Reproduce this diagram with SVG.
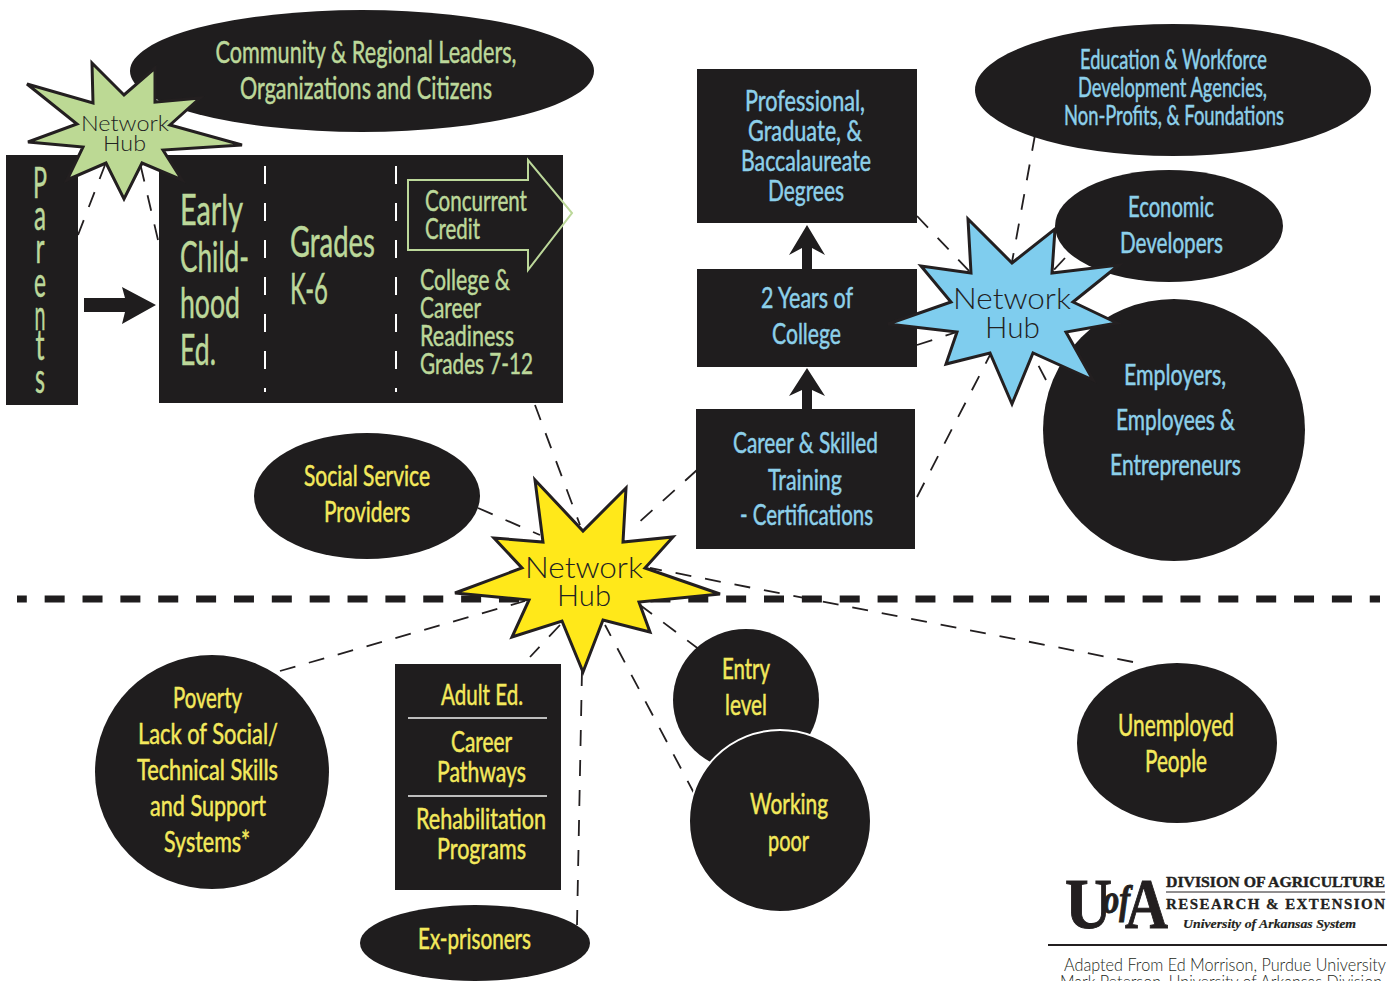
<svg xmlns="http://www.w3.org/2000/svg" width="1393" height="981" viewBox="0 0 1393 981">
<style>
.blk{fill:#1f1d1e}
text{font-family:"Lato","Open Sans","Liberation Sans",sans-serif;text-anchor:middle}
.g{fill:#bcd89a;stroke:#bcd89a;stroke-width:.5px}.b{fill:#8dd0ea;stroke:#8dd0ea;stroke-width:.5px}.y{fill:#f4e95c;stroke:#f4e95c;stroke-width:.5px}
.s26{font-size:27px}.s28{font-size:29px}.s30{font-size:31px}.s40{font-size:42px}
.hub{font-weight:300;fill:#222}
.star{stroke:#231f20;stroke-width:3;stroke-linejoin:miter}
.dash{fill:none;stroke:#231f20;stroke-width:1.800;stroke-dasharray:16 14}
.wd{stroke:#fff;stroke-width:2;stroke-dasharray:18 19;fill:none}
.sf{font-family:"Liberation Serif",serif;fill:#231f20;stroke:#231f20}
</style>
<g id="divider"><path d="M17 599H1380" fill="none" stroke="#1f1d1e" stroke-width="7" stroke-dasharray="20 17.860" stroke-dashoffset="10.200"/></g>
<g id="connectors">
<path class="dash" d="M78 235L105 165"/>
<path class="dash" d="M158 240L140 163"/>
<path class="dash" d="M535 405L580 525"/>
<path class="dash" d="M478 508L540 535"/>
<path class="dash" d="M697 470L636 525"/>
<path class="dash" d="M1133 662L650 568"/>
<path class="dash" d="M280 671L525 601"/>
<path class="dash" d="M700 650L640 605"/>
<path class="dash" d="M695 795L605 625"/>
<path class="dash" d="M582 670L577 925"/>
<path class="dash" d="M560 625L530 657"/>
<path class="dash" d="M917 216L970 272"/>
<path class="dash" d="M917 345L957 332"/>
<path class="dash" d="M917 497L990 355"/>
<path class="dash" d="M1035 135L1012 262"/>
<path class="dash" d="M1065 258L1052 272"/>
<path class="dash" d="M1046 380L1033 355"/>
<path class="blk" d="M84 298H125L122 287L156 305L122 324L125 312H84Z"/>
<path class="blk" d="M807 225L825 255L812 248V270H802V248L789 255Z"/>
<path class="blk" d="M807 368L825 396L812 390V410H802V390L789 396Z"/>
</g>
<g id="node-community"><ellipse class="blk" cx="362" cy="71" rx="232" ry="61"/>
<text class="g s30" x="366" y="63" textLength="301" lengthAdjust="spacingAndGlyphs">Community &amp; Regional Leaders,</text>
<text class="g s30" x="366" y="99" textLength="252" lengthAdjust="spacingAndGlyphs">Organizations and Citizens</text></g>
<g id="node-parents"><rect class="blk" x="6" y="155" width="72" height="250"/>
<text class="g s40" x="40" y="198" textLength="14" lengthAdjust="spacingAndGlyphs">P</text>
<text class="g s40" x="40" y="230" textLength="12" lengthAdjust="spacingAndGlyphs">a</text>
<text class="g s40" x="40" y="263" textLength="9" lengthAdjust="spacingAndGlyphs">r</text>
<text class="g s40" x="40" y="297" textLength="12" lengthAdjust="spacingAndGlyphs">e</text>
<text class="g s40" x="40" y="330" textLength="11" lengthAdjust="spacingAndGlyphs">n</text>
<text class="g s40" x="40" y="360" textLength="9" lengthAdjust="spacingAndGlyphs">t</text>
<text class="g s40" x="40" y="393" textLength="10" lengthAdjust="spacingAndGlyphs">s</text></g>
<g id="node-education-pipeline"><rect class="blk" x="159" y="155" width="404" height="248"/>
<path class="wd" d="M265 166V392M396 166V392"/>
<text class="g s40" x="211.500" y="225" textLength="63" lengthAdjust="spacingAndGlyphs">Early</text>
<text class="g s40" x="214.500" y="272" textLength="69" lengthAdjust="spacingAndGlyphs">Child-</text>
<text class="g s40" x="210" y="318" textLength="60" lengthAdjust="spacingAndGlyphs">hood</text>
<text class="g s40" x="198" y="365" textLength="36" lengthAdjust="spacingAndGlyphs">Ed.</text>
<text class="g s40" x="332.500" y="257" textLength="85" lengthAdjust="spacingAndGlyphs">Grades</text>
<text class="g s40" x="309" y="304" textLength="38" lengthAdjust="spacingAndGlyphs">K-6</text>
<path d="M408 180H528V160L572 213L528 270V250H408Z" fill="none" stroke="#bcd89a" stroke-width="2"/>
<text class="g s28" x="476" y="211" textLength="102" lengthAdjust="spacingAndGlyphs">Concurrent</text>
<text class="g s28" x="452.500" y="239" textLength="55" lengthAdjust="spacingAndGlyphs">Credit</text>
<text class="g s28" x="465" y="290" textLength="90" lengthAdjust="spacingAndGlyphs">College &amp;</text>
<text class="g s28" x="450.500" y="318" textLength="61" lengthAdjust="spacingAndGlyphs">Career</text>
<text class="g s28" x="467" y="346" textLength="94" lengthAdjust="spacingAndGlyphs">Readiness</text>
<text class="g s28" x="476.500" y="374" textLength="113" lengthAdjust="spacingAndGlyphs">Grades 7-12</text></g>
<g id="hub-green"><polygon class="star" fill="#bcd994" stroke-width="2" points="92,63 124,95 155,68 155,102 200,98 170,125 242,145 163,150 182,180 142,163 124,199 106,163 67,180 83,147 28,142 77,124 27,84 93,103"/>
<text class="hub" x="125" y="131" font-size="21" textLength="88" lengthAdjust="spacingAndGlyphs">Network</text>
<text class="hub" x="124.500" y="151" font-size="21" textLength="43" lengthAdjust="spacingAndGlyphs">Hub</text></g>
<g id="node-professional"><rect class="blk" x="697" y="69" width="220" height="154"/>
<text class="b s28" x="805" y="111" textLength="120" lengthAdjust="spacingAndGlyphs">Professional,</text>
<text class="b s28" x="805" y="141" textLength="114" lengthAdjust="spacingAndGlyphs">Graduate, &amp;</text>
<text class="b s28" x="806" y="171" textLength="130" lengthAdjust="spacingAndGlyphs">Baccalaureate</text>
<text class="b s28" x="806" y="201" textLength="76" lengthAdjust="spacingAndGlyphs">Degrees</text></g>
<g id="node-two-years"><rect class="blk" x="697" y="269" width="220" height="98"/>
<text class="b s28" x="807" y="308" textLength="92" lengthAdjust="spacingAndGlyphs">2 Years of</text>
<text class="b s28" x="806.500" y="344" textLength="69" lengthAdjust="spacingAndGlyphs">College</text></g>
<g id="node-career"><rect class="blk" x="696" y="409" width="219" height="140"/>
<text class="b s28" x="805.500" y="453" textLength="145" lengthAdjust="spacingAndGlyphs">Career &amp; Skilled</text>
<text class="b s28" x="805" y="490" textLength="74" lengthAdjust="spacingAndGlyphs">Training</text>
<text class="b s28" x="806.500" y="525" textLength="133" lengthAdjust="spacingAndGlyphs">- Certifications</text></g>
<g id="node-agencies"><ellipse class="blk" cx="1173" cy="90" rx="198" ry="66"/>
<text class="b s26" x="1173.500" y="69" textLength="187" lengthAdjust="spacingAndGlyphs">Education &amp; Workforce</text>
<text class="b s26" x="1172.500" y="97" textLength="189" lengthAdjust="spacingAndGlyphs">Development Agencies,</text>
<text class="b s26" x="1174" y="125" textLength="220" lengthAdjust="spacingAndGlyphs">Non-Profits, &amp; Foundations</text></g>
<g id="node-economic"><ellipse class="blk" cx="1169" cy="226" rx="114" ry="56"/>
<text class="b s28" x="1171" y="217" textLength="86" lengthAdjust="spacingAndGlyphs">Economic</text>
<text class="b s28" x="1171.500" y="253" textLength="103" lengthAdjust="spacingAndGlyphs">Developers</text></g>
<g id="node-employers"><ellipse class="blk" cx="1174" cy="430" rx="131" ry="131"/>
<text class="b s28" x="1175" y="385" textLength="102" lengthAdjust="spacingAndGlyphs">Employers,</text>
<text class="b s28" x="1175.500" y="430" textLength="119" lengthAdjust="spacingAndGlyphs">Employees &amp;</text>
<text class="b s28" x="1175.500" y="475" textLength="131" lengthAdjust="spacingAndGlyphs">Entrepreneurs</text></g>
<g id="hub-blue"><polygon class="star" fill="#7fcdee" points="968,219 1012,263 1055,229 1052,273 1119,265 1073,302 1117,323 1066,332 1093,380 1033,353 1012,404 990,353 946,364 957,332 888,324 951,302 921,266 971,273"/>
<text class="hub" x="1012" y="309" font-size="29" textLength="118" lengthAdjust="spacingAndGlyphs">Network</text>
<text class="hub" x="1012.500" y="338" font-size="29" textLength="55" lengthAdjust="spacingAndGlyphs">Hub</text></g>
<g id="node-social"><ellipse class="blk" cx="367" cy="496" rx="113" ry="63"/>
<text class="y s28" x="367" y="486" textLength="126" lengthAdjust="spacingAndGlyphs">Social Service</text>
<text class="y s28" x="367" y="522" textLength="86" lengthAdjust="spacingAndGlyphs">Providers</text></g>
<g id="node-poverty"><ellipse class="blk" cx="212" cy="772" rx="117" ry="117"/>
<text class="y s28" x="207.500" y="708" textLength="69" lengthAdjust="spacingAndGlyphs">Poverty</text>
<text class="y s28" x="208" y="744" textLength="140" lengthAdjust="spacingAndGlyphs">Lack of Social/</text>
<text class="y s28" x="207.500" y="780" textLength="141" lengthAdjust="spacingAndGlyphs">Technical Skills</text>
<text class="y s28" x="208" y="816" textLength="116" lengthAdjust="spacingAndGlyphs">and Support</text>
<text class="y s28" x="207" y="852" textLength="86" lengthAdjust="spacingAndGlyphs">Systems*</text></g>
<g id="node-adult"><rect class="blk" x="395" y="664" width="166" height="226"/>
<path d="M408 718H547M408 796H547" stroke="#f2f2f2" stroke-width="1.500" fill="none"/>
<text class="y s28" x="482" y="705" textLength="82" lengthAdjust="spacingAndGlyphs">Adult Ed.</text>
<text class="y s28" x="481.500" y="752" textLength="61" lengthAdjust="spacingAndGlyphs">Career</text>
<text class="y s28" x="481.500" y="782" textLength="89" lengthAdjust="spacingAndGlyphs">Pathways</text>
<text class="y s28" x="481" y="829" textLength="130" lengthAdjust="spacingAndGlyphs">Rehabilitation</text>
<text class="y s28" x="481.500" y="859" textLength="89" lengthAdjust="spacingAndGlyphs">Programs</text></g>
<g id="node-exprisoners"><ellipse class="blk" cx="475" cy="943" rx="115" ry="38"/>
<text class="y s28" x="474.500" y="949" textLength="113" lengthAdjust="spacingAndGlyphs">Ex-prisoners</text></g>
<g id="node-entry"><ellipse class="blk" cx="746" cy="700" rx="73" ry="71"/>
<text class="y s28" x="746" y="679" textLength="48" lengthAdjust="spacingAndGlyphs">Entry</text>
<text class="y s28" x="746" y="715" textLength="42" lengthAdjust="spacingAndGlyphs">level</text></g>
<g id="node-working"><circle class="blk" cx="780" cy="821" r="91" stroke="#fff" stroke-width="2"/>
<text class="y s28" x="789" y="814" textLength="78" lengthAdjust="spacingAndGlyphs">Working</text>
<text class="y s28" x="788.500" y="851" textLength="41" lengthAdjust="spacingAndGlyphs">poor</text></g>
<g id="node-unemployed"><ellipse class="blk" cx="1177" cy="743" rx="100" ry="80"/>
<text class="y s30" x="1176" y="736" textLength="116" lengthAdjust="spacingAndGlyphs">Unemployed</text>
<text class="y s30" x="1176" y="772" textLength="62" lengthAdjust="spacingAndGlyphs">People</text></g>
<g id="hub-yellow"><polygon class="star" fill="#ffe81a" points="535,480 583,531 626,488 623,542 673,537 645,568 720,594 639,602 650,632 603,620 583,672 562,621 512,637 529,600 455,593 522,568 494,538 543,542"/>
<text class="hub" x="584" y="578" font-size="29" textLength="118" lengthAdjust="spacingAndGlyphs">Network</text>
<text class="hub" x="584" y="606" font-size="29" textLength="54" lengthAdjust="spacingAndGlyphs">Hub</text></g>
<g id="logo">
<text class="sf" x="1088.500" y="928" font-size="72" font-weight="700" textLength="47" lengthAdjust="spacingAndGlyphs">U</text>
<text class="sf" x="1116.500" y="913" font-size="40" font-style="italic" font-weight="700" textLength="27" lengthAdjust="spacingAndGlyphs">of</text>
<text class="sf" x="1146.500" y="928" font-size="72" font-weight="700" textLength="43" lengthAdjust="spacingAndGlyphs">A</text>
<text class="sf" x="1275.500" y="887" font-size="15" font-weight="700" stroke-width=".4" textLength="219" lengthAdjust="spacingAndGlyphs">DIVISION OF AGRICULTURE</text>
<path d="M1166 892H1385" stroke="#231f20" stroke-width="1"/>
<text class="sf" x="1275.500" y="909" font-size="15" font-weight="700" stroke-width=".3" textLength="219" lengthAdjust="spacing">RESEARCH &amp; EXTENSION</text>
<text class="sf" x="1269.500" y="928" font-size="13.500" font-style="italic" font-weight="700" stroke-width=".2" textLength="173" lengthAdjust="spacingAndGlyphs">University of Arkansas System</text>
<path d="M1048 945H1387" stroke="#231f20" stroke-width="2"/>
<text x="1225" y="971" font-size="17" font-weight="300" fill="#231f20" textLength="322" lengthAdjust="spacingAndGlyphs">Adapted From Ed Morrison, Purdue University</text>
<text x="1221" y="988" font-size="17" font-weight="300" fill="#231f20" textLength="322" lengthAdjust="spacingAndGlyphs">Mark Peterson, University of Arkansas Division</text>
</g>
</svg>
